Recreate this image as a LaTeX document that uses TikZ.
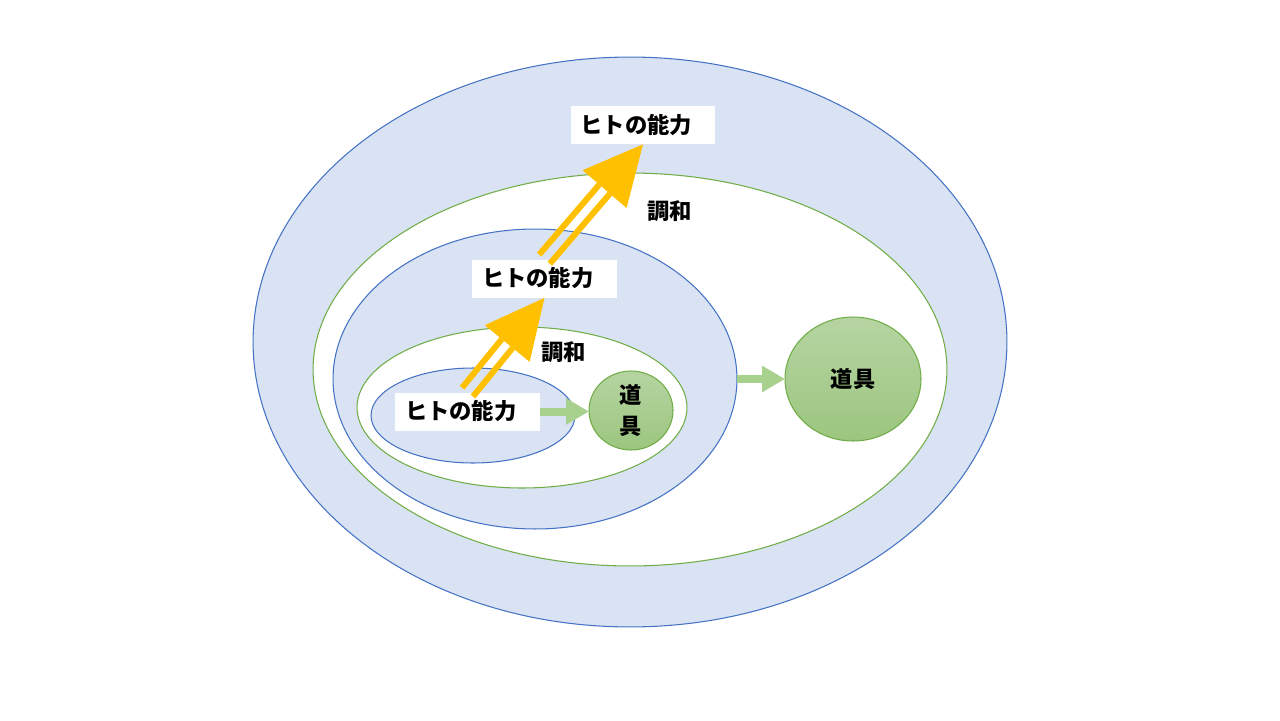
\documentclass[tikz,border=0pt]{standalone}
\usepackage{fontspec}
\newfontfamily\jp{Noto Sans CJK JP}
\usetikzlibrary{shapes.geometric,arrows.meta,calc}
\definecolor{lblue}{HTML}{DAE3F3}
\definecolor{dblue}{HTML}{4472C4}
\definecolor{dgreen}{HTML}{70AD47}
\definecolor{lgreen}{HTML}{A9D18E}
\definecolor{gtop}{HTML}{B6D4A2}
\definecolor{gbot}{HTML}{9CC67F}
\definecolor{amber}{HTML}{FFC000}

\newcommand\yarrow[2]{%
\coordinate (hb) at ($(#2)!1.18cm!(#1)$);
\fill[amber] (#2) -- ($(hb)!0.58cm!90:(#2)$) -- ($(hb)!0.58cm!-90:(#2)$) -- cycle;
\draw[amber,line width=0.12cm] ($(#1)!0.14cm!90:(#2)$) -- ($(hb)!0.14cm!-90:(#1)$);
\draw[amber,line width=0.12cm] ($(#1)!0.14cm!-90:(#2)$) -- ($(hb)!0.14cm!90:(#1)$);
}

\begin{document}
\begin{tikzpicture}[x=0.02cm,y=-0.02cm,
  ell/.style={ellipse,inner sep=0pt,outer sep=0pt,line width=0.6pt},
  bell/.style={ell,draw=dblue,fill=lblue},
  well/.style={ell,draw=dgreen,fill=white},
  tool/.style={ell,draw=dgreen,top color=gtop,bottom color=gbot,align=center,
    font=\jp\bfseries\fontsize{12.7}{18}\selectfont},
  lab/.style={fill=white,text width=2.5cm,align=left,inner xsep=0.2cm,inner ysep=0pt,
    minimum height=0.76cm,font=\jp\bfseries\fontsize{12.7}{15}\selectfont},
  word/.style={font=\jp\bfseries\fontsize{12.7}{15}\selectfont},
  garrow/.style={lgreen,line width=0.16cm,-{Triangle[length=0.46cm,width=0.5cm]}}]
\useasboundingbox (0,0) rectangle (1280,720);
\node[bell,minimum width=15.08cm,minimum height=11.4cm] (e1) at (630,342) {};
\node[well,minimum width=12.68cm,minimum height=7.86cm] (e2) at (630,369.5) {};
\node[bell,minimum width=8.08cm,minimum height=6cm] (e3) at (535,379) {};
\node[well,minimum width=6.6cm,minimum height=3.22cm] (e4) at (522,407.5) {};
\node[bell,minimum width=4.08cm,minimum height=1.9cm] (e5) at (473,415.5) {};
\node[tool,minimum width=1.68cm,minimum height=1.58cm] (t1) at (631,410.5) {道\\具};
\node[tool,minimum width=2.72cm,minimum height=2.48cm] (t2) at (853,379) {道具};
\node[lab] (h1) at (467.5,411.5) {ヒトの能力};
\node[lab] (h2) at (544.5,278.5) {ヒトの能力};
\node[lab] (h3) at (643,125) {ヒトの能力};
\node[word] (c1) at (563.5,352) {調和};
\node[word] (c2) at (669.5,211) {調和};
\draw[garrow] (h1.east) -- (h1.east -| t1.west);
\draw[garrow] (e3.east) -- (t2.west);
\yarrow{h1.north}{h2.south}
\yarrow{h2.north}{h3.south}
\end{tikzpicture}
\end{document}
